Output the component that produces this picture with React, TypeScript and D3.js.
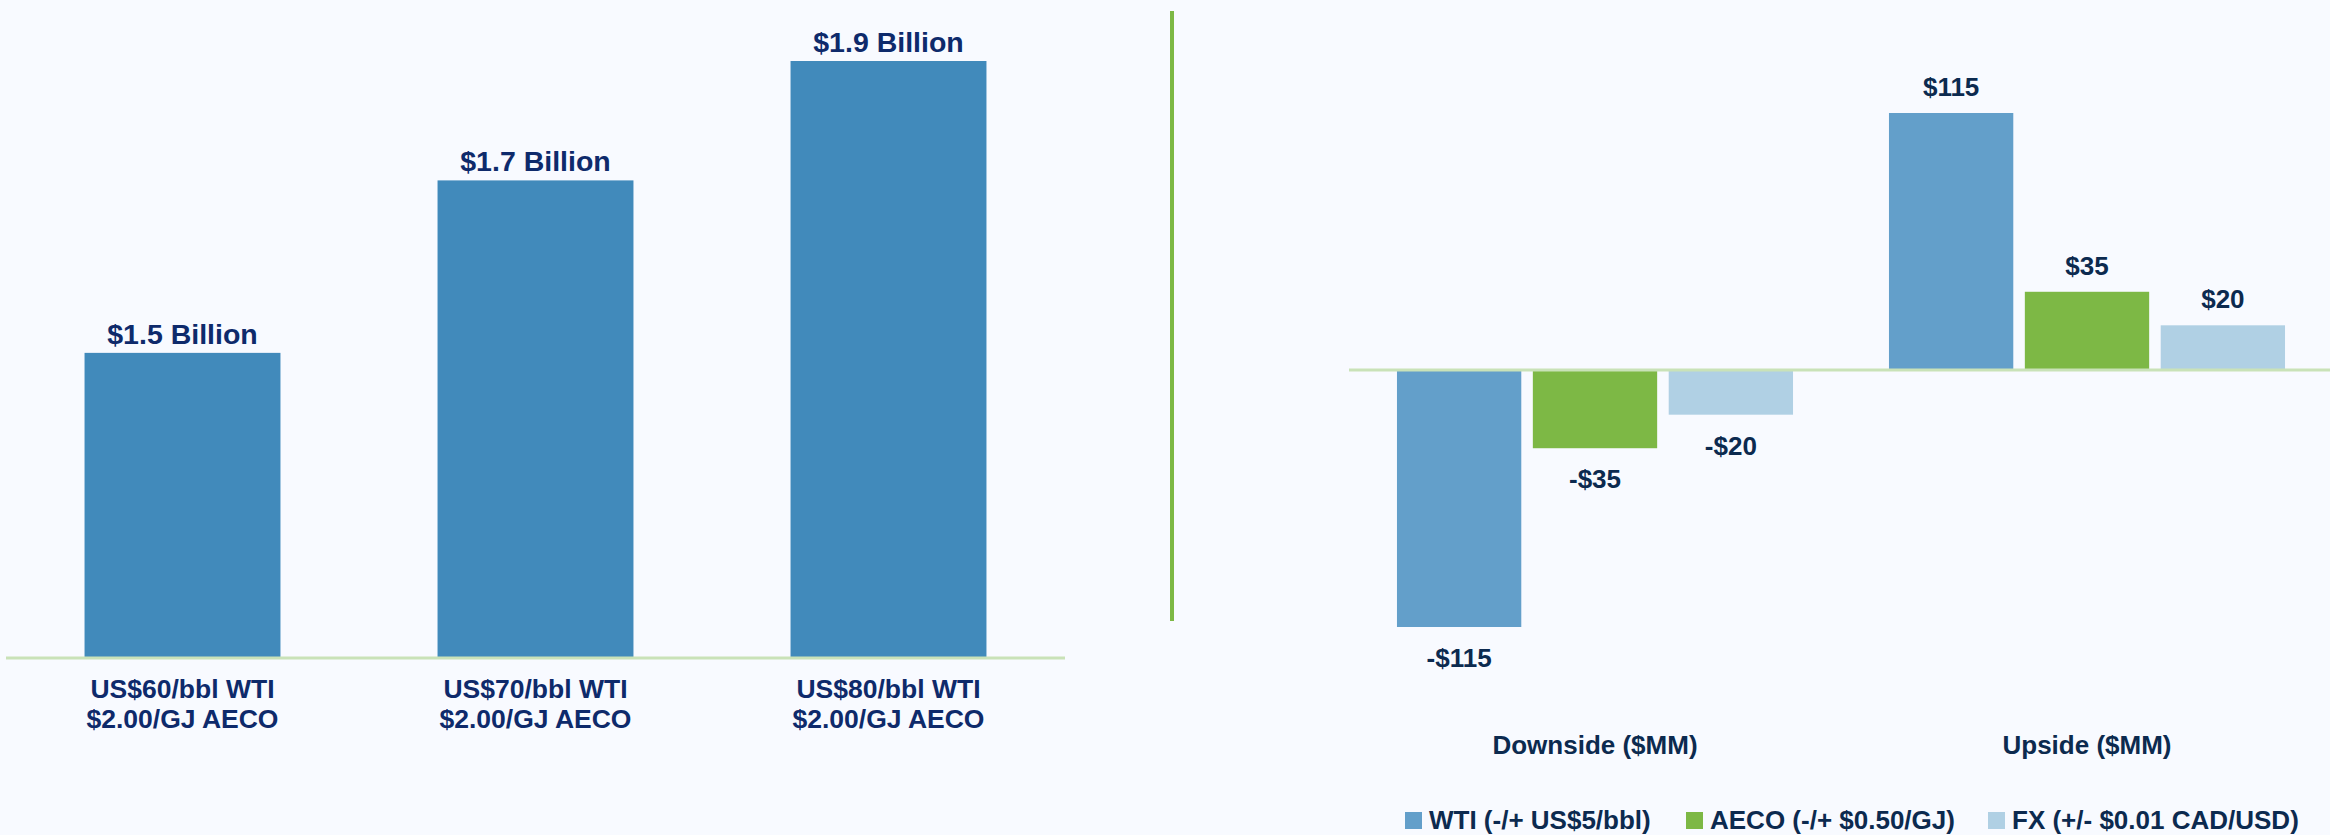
import { useEffect } from "react";
import * as d3 from "d3";

// left panel: funds flow by price deck
const deckWti = ["US$60/bbl WTI", "US$70/bbl WTI", "US$80/bbl WTI"];
const deckAeco = ["$2.00/GJ AECO", "$2.00/GJ AECO", "$2.00/GJ AECO"];
const fundsFlow = [1.46, 1.72, 1.9]; // $B, as drawn
const fundsFlowLabels = ["$1.5 Billion", "$1.7 Billion", "$1.9 Billion"];

// right panel: sensitivities
const sensGroups = ["Downside ($MM)", "Upside ($MM)"];
const sensSeries = ["WTI (-/+ US$5/bbl)", "AECO (-/+ $0.50/GJ)", "FX (+/- $0.01 CAD/USD)"];
const downside = [-115, -35, -20];
const upside = [115, 35, 20];

const W = 2330;
const H = 835;
const FONT = "'Liberation Sans', Arial, Helvetica, sans-serif";
const NAVY = "#0e2a6b";
const DARK = "#0c2a4f";
const AXIS = "#c9e2b8";
const seriesColors = ["#639fca", "#7db845", "#b0d0e4"];
const legendX = [1405, 1686, 1988];

const fmt = (v: number) => (v < 0 ? `-$${Math.abs(v)}` : `$${v}`);

export default function App() {
  useEffect(() => {
    document.body.style.margin = "0";
    document.body.style.background = "#f8faff";
  }, []);

  // left scales
  const xL = d3.scaleBand<number>().domain(d3.range(fundsFlow.length)).range([6, 1065])
    .paddingInner(0.445).paddingOuter(0.2225);
  const yL = d3.scaleLinear().domain([1, 1.9]).range([658, 61]);

  // right scales
  const x0 = d3.scaleBand<string>().domain(sensGroups).range([1349, 2333])
    .paddingInner(0.195).paddingOuter(0.0975);
  const x1 = d3.scaleBand<number>().domain(d3.range(sensSeries.length))
    .range([0, x0.bandwidth()]).paddingInner(0.085);
  const yR = d3.scaleLinear().domain([-115, 115]).range([627, 113]);
  const groupValues = [downside, upside];

  return (
    <svg width={W} height={H} style={{ display: "block", background: "#f8faff" }}
      fontFamily={FONT} fontWeight="bold">
      {/* left chart */}
      {fundsFlow.map((v, i) => (
        <g key={i}>
          <rect x={xL(i)} y={yL(v)} width={xL.bandwidth()} height={yL(1) - yL(v)} fill="#418abb" />
          <text x={xL(i)! + xL.bandwidth() / 2} y={yL(v) - 9} textAnchor="middle"
            fontSize={28.5} fill={NAVY}>{fundsFlowLabels[i]}</text>
          <text x={xL(i)! + xL.bandwidth() / 2} y={698} textAnchor="middle"
            fontSize={26.5} fill={NAVY}>{deckWti[i]}</text>
          <text x={xL(i)! + xL.bandwidth() / 2} y={728} textAnchor="middle"
            fontSize={26.5} fill={NAVY}>{deckAeco[i]}</text>
        </g>
      ))}
      <line x1={6} x2={1065} y1={658} y2={658} stroke={AXIS} strokeWidth={3} />

      {/* divider */}
      <line x1={1172} x2={1172} y1={11} y2={621} stroke="#7db845" strokeWidth={4} />

      {/* right chart */}
      {sensGroups.map((g, gi) => (
        <g key={g} transform={`translate(${x0(g)},0)`}>
          {groupValues[gi].map((v, si) => {
            const top = Math.min(yR(v), yR(0));
            const h = Math.abs(yR(v) - yR(0));
            const cx = x1(si)! + x1.bandwidth() / 2;
            return (
              <g key={si}>
                <rect x={x1(si)} y={top} width={x1.bandwidth()} height={h} fill={seriesColors[si]} />
                <text x={cx} y={v >= 0 ? yR(v) - 17 : yR(v) + 40} textAnchor="middle"
                  fontSize={26} fill={DARK}>{fmt(v)}</text>
              </g>
            );
          })}
          <text x={x0.bandwidth() / 2} y={754} textAnchor="middle" fontSize={26} fill={DARK}>{g}</text>
        </g>
      ))}
      <line x1={1349} x2={W} y1={yR(0)} y2={yR(0)} stroke={AXIS} strokeWidth={3} />

      {/* legend */}
      {sensSeries.map((s, i) => (
        <g key={s} transform={`translate(${legendX[i]},812)`}>
          <rect width={17} height={17} fill={seriesColors[i]} />
          <text x={24} y={17} fontSize={26} fill={DARK}>{s}</text>
        </g>
      ))}
    </svg>
  );
}
